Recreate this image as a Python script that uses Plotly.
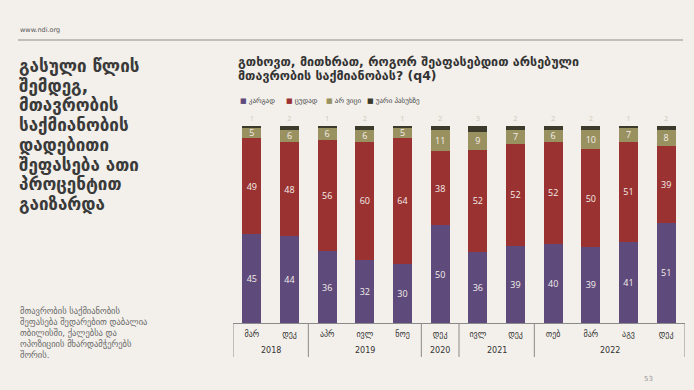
import plotly.graph_objects as go

# ---- data ----
months = ["მარ", "დეკ", "აპრ", "ივლ", "ნოე", "დეკ", "ივლ", "დეკ", "თებ", "მარ", "აგვ", "დეკ"]
years = ["2018", "2018", "2019", "2019", "2019", "2020", "2021", "2021", "2022", "2022", "2022", "2022"]
series_names = ["კარგად", "ცუდად", "არ ვიცი", "უარი პასუხზე"]
good = [45, 44, 36, 32, 30, 50, 36, 39, 40, 39, 41, 51]
bad = [49, 48, 56, 60, 64, 38, 52, 52, 52, 50, 51, 39]
dont_know = [5, 6, 6, 6, 5, 11, 9, 7, 6, 10, 7, 8]
refuse = [1, 2, 1, 2, 1, 2, 3, 2, 2, 2, 1, 2]
colors = ["#5f4a7c", "#9a3232", "#9a9161", "#3b3a2b"]

W, H = 694, 390
L, R, T, B = 233, 685, 126, 323
BG = "#f3f0eb"
AXC = "#8a8a8a"


def px(x):
    return (x - L) / (R - L)


def py(y):
    return (B - y) / (B - T)


xpos = list(range(len(months)))

fig = go.Figure()
series = [good, bad, dont_know, refuse]
for k, (name, vals, col) in enumerate(zip(series_names, series, colors)):
    top = k == len(series) - 1
    fig.add_trace(go.Bar(
        x=xpos, y=vals, name=name,
        marker=dict(color=col, line=dict(width=0)),
        text=[str(v) for v in vals], texttemplate="%{text}",
        textposition="outside" if top else "inside", insidetextanchor="middle",
        textangle=0, constraintext="none", cliponaxis=False,
        textfont=dict(color="#cfc8ba" if top else "#f4efe8", family="Open Sans, DejaVu Sans",
                      size=7.5 if top else 9),
        showlegend=False, hoverinfo="skip",
    ))

annotations = []
shapes = []
# page header
annotations.append(dict(x=px(18), y=py(30), xref="paper", yref="paper", xanchor="left", yanchor="middle",
                        text="www.ndi.org", showarrow=False,
                        font=dict(size=6.5, color="#555555", family="DejaVu Sans")))
shapes.append(dict(type="line", xref="paper", yref="paper", x0=px(18), x1=px(683), y0=py(40), y1=py(40),
                   line=dict(color="#8c8c8c", width=1)))
# big left title
title_lines = ["გასული წლის", "შემდეგ,", "მთავრობის", "საქმიანობის", "დადებითი",
               "შეფასება ათი", "პროცენტით", "გაიზარდა"]
for i, t in enumerate(title_lines):
    annotations.append(dict(x=px(17), y=py(66 + i * 19.7), xref="paper", yref="paper",
                            xanchor="left", yanchor="middle", text="<b>" + t + "</b>", showarrow=False,
                            font=dict(size=17, color="#3a3a3a", family="DejaVu Sans")))
# body text
body_lines = ["მთავრობის საქმიანობის", "შეფასება შედარებით დაბალია", "თბილისში, ქალებსა და",
              "ოპოზიციის მხარდამჭერებს", "შორის."]
for i, t in enumerate(body_lines):
    annotations.append(dict(x=px(18), y=py(310.5 + i * 11.2), xref="paper", yref="paper",
                            xanchor="left", yanchor="middle", text=t, showarrow=False,
                            font=dict(size=8.5, color="#666666", family="DejaVu Sans")))
# chart title
chart_title = ["გთხოვთ, მითხრათ, როგორ შეაფასებდით არსებული", "მთავრობის საქმიანობას? (q4)"]
for i, t in enumerate(chart_title):
    annotations.append(dict(x=px(236), y=py(61 + i * 14.5), xref="paper", yref="paper",
                            xanchor="left", yanchor="middle", text="<b>" + t + "</b>", showarrow=False,
                            font=dict(size=12.5, color="#333333", family="DejaVu Sans")))
# legend
leg_x = [238, 284, 324, 365]
for name, col, lx in zip(series_names, colors, leg_x):
    annotations.append(dict(x=px(lx), y=py(101), xref="paper", yref="paper",
                            xanchor="left", yanchor="middle",
                            text='<span style="color:%s">■</span> %s' % (col, name), showarrow=False,
                            font=dict(size=7, color="#444444", family="DejaVu Sans")))
# page number
annotations.append(dict(x=px(648), y=py(379), xref="paper", yref="paper", xanchor="center", yanchor="middle",
                        text="53", showarrow=False, font=dict(size=7, color="#999999", family="DejaVu Sans")))

# year groups: labels + dividers, derived from the years list
groups = []
for i, yv in enumerate(years):
    if groups and groups[-1][0] == yv:
        groups[-1][2] = i
    else:
        groups.append([yv, i, i])
for yv, a, b in groups:
    annotations.append(dict(x=(a + b) / 2, y=py(350.5), xref="x", yref="paper", xanchor="center",
                            yanchor="middle", text=yv, showarrow=False,
                            font=dict(size=8, color="#333333", family="DejaVu Sans")))
    for edge in ([a - 0.5, b + 0.5] if a == 0 else [b + 0.5]):
        shapes.append(dict(type="line", xref="x", yref="paper", x0=edge, x1=edge, y0=0, y1=py(357),
                           line=dict(color=AXC, width=1)))

fig.update_layout(
    width=W, height=H,
    margin=dict(l=L, r=W - R, t=T, b=H - B, pad=0),
    paper_bgcolor=BG, plot_bgcolor=BG,
    barmode="stack", barnorm="percent", bargap=0.5,
    annotations=annotations, shapes=shapes,
    showlegend=False,
)
fig.update_xaxes(range=[-0.5, len(months) - 0.5], showline=True, linecolor=AXC, linewidth=1,
                 tickvals=xpos, ticktext=months, ticks="outside", ticklen=3, tickcolor="rgba(0,0,0,0)",
                 showgrid=False, zeroline=False,
                 tickfont=dict(size=8, color="#333333", family="DejaVu Sans"))
fig.update_yaxes(range=[0, 100], visible=False, showgrid=False, zeroline=False)

fig.write_html("out.html", config={"displayModeBar": False},
               post_script="document.body.style.margin='0px';")
